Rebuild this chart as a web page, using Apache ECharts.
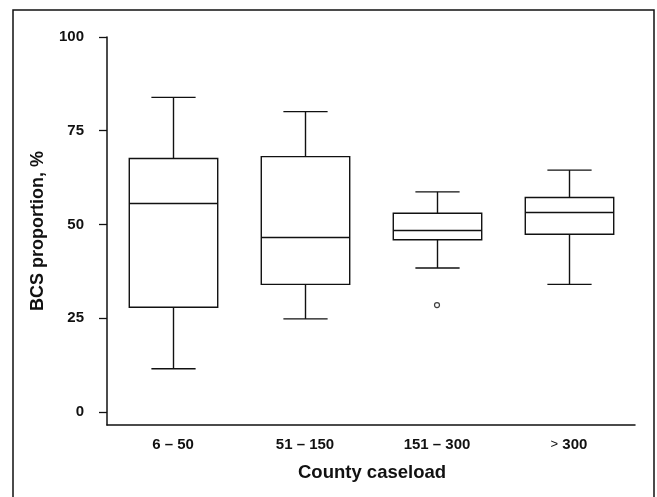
<!DOCTYPE html>
<html>
<head>
<meta charset="utf-8">
<script src="https://cdn.jsdelivr.net/npm/echarts@6/dist/echarts.min.js"></script>
<style>
  html, body { margin: 0; padding: 0; background: #fff; }
  #chart { width: 657px; height: 497px; }
</style>
</head>
<body>
<div id="chart"></div>
<script>
// ---- data ----
var categories = ['6 – 50', '51 – 150', '151 – 300', '> 300'];
var lowerWhisker = [11.5, 24.8, 38.4, 34.0];
var q1 = [27.9, 34.0, 45.9, 47.4];
var median = [55.6, 46.5, 48.4, 53.2];
var q3 = [67.6, 68.1, 53.0, 57.2];
var upperWhisker = [83.9, 80.1, 58.7, 64.5];
var outliers = [[2, 28.5]];
var yTicks = [0, 25, 50, 75, 100];

var boxData = categories.map(function (c, i) {
  return [i, lowerWhisker[i], q1[i], median[i], q3[i], upperWhisker[i]];
});

var ink = '#111';

function renderBox(params, api) {
  var idx = api.value(0);
  var lo = api.coord([idx, api.value(1)]);
  var b1 = api.coord([idx, api.value(2)]);
  var md = api.coord([idx, api.value(3)]);
  var b3 = api.coord([idx, api.value(4)]);
  var hi = api.coord([idx, api.value(5)]);
  var band = api.size([1, 0])[0];
  var hw = band * 0.335;
  var cw = hw / 2;
  var x = Math.round(lo[0]) + 0.5;
  var st = { stroke: ink, lineWidth: 1.4, fill: null };
  return {
    type: 'group',
    children: [
      { type: 'rect', shape: { x: x - hw, y: b3[1], width: hw * 2, height: b1[1] - b3[1] }, style: { stroke: ink, lineWidth: 1.4, fill: 'rgba(0,0,0,0)' } },
      { type: 'line', shape: { x1: x - hw, y1: md[1], x2: x + hw, y2: md[1] }, style: st },
      { type: 'line', shape: { x1: x, y1: b3[1], x2: x, y2: hi[1] }, style: st },
      { type: 'line', shape: { x1: x, y1: b1[1], x2: x, y2: lo[1] }, style: st },
      { type: 'line', shape: { x1: x - cw, y1: hi[1], x2: x + cw, y2: hi[1] }, style: st },
      { type: 'line', shape: { x1: x - cw, y1: lo[1], x2: x + cw, y2: lo[1] }, style: st }
    ]
  };
}

var chart = echarts.init(document.getElementById('chart'), null, { renderer: 'canvas' });
chart.setOption({
  animation: false,
  backgroundColor: '#fff',
  textStyle: { fontFamily: 'Liberation Sans, Arial, sans-serif' },
  grid: { left: 107, right: 22, top: 37, bottom: 72, containLabel: false },
  xAxis: {
    type: 'category',
    data: categories,
    boundaryGap: true,
    axisLine: { onZero: false, lineStyle: { color: ink, width: 1.5 } },
    axisTick: { show: false },
    splitLine: { show: false },
    axisLabel: {
      color: ink, fontSize: 15, fontWeight: 'bold', margin: 12, fontFamily: 'Liberation Sans',
      formatter: function (v) { return v.charAt(0) === '>' ? '{s|>}' + v.slice(1) : v; },
      rich: { s: { fontSize: 13, fontWeight: 'normal', color: ink, fontFamily: 'Liberation Sans' } }
    }
  },
  yAxis: {
    type: 'value',
    min: -3.5,
    max: 100,
    axisLine: { show: true, lineStyle: { color: ink, width: 1.5 } },
    axisTick: { show: true, length: 8, customValues: yTicks, lineStyle: { color: ink, width: 1.3 } },
    splitLine: { show: false },
    axisLabel: { color: ink, fontSize: 15, fontWeight: 'bold', margin: 23, customValues: yTicks, fontFamily: 'Liberation Sans' },
    name: 'BCS proportion, %',
    nameLocation: 'middle',
    nameGap: 60,
    nameTextStyle: { color: ink, fontSize: 18, fontWeight: 'bold', fontFamily: 'Liberation Sans' }
  },
  graphic: [
    { type: 'rect', z: 100, shape: { x: 13, y: 10, width: 641, height: 500 }, style: { stroke: ink, lineWidth: 1.5, fill: null } },
    { type: 'text', z: 100, left: 298, top: 463, style: { text: 'County caseload', fill: ink, font: 'bold 18.5px "Liberation Sans"' } }
  ],
  series: [
    {
      type: 'custom',
      renderItem: renderBox,
      data: boxData,
      encode: { x: 0, y: [1, 2, 3, 4, 5] },
      z: 5
    },
    {
      type: 'scatter',
      data: outliers,
      symbol: 'circle',
      symbolSize: 5,
      itemStyle: { color: '#fff', borderColor: ink, borderWidth: 1.2 },
      z: 6
    }
  ]
});
</script>
</body>
</html>
